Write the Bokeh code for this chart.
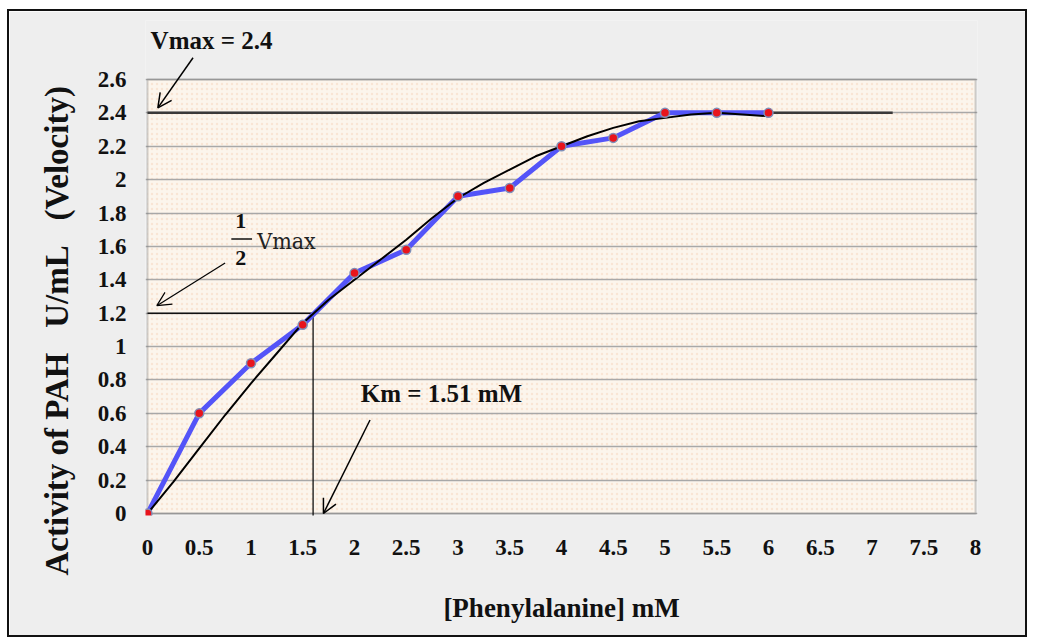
from bokeh.plotting import figure
from bokeh.models import (FixedTicker, Arrow, OpenHead, Label, BoxAnnotation,
                          ColumnDataSource, Title)
from bokeh.embed import file_html
from bokeh.resources import INLINE

# ---- data ----
conc = [0, 0.5, 1, 1.5, 2, 2.5, 3, 3.5, 4, 4.5, 5, 5.5, 6]
activity = [0, 0.60, 0.90, 1.13, 1.44, 1.58, 1.90, 1.95, 2.20, 2.25, 2.40, 2.40, 2.40]

fit_x = [0, 0.25, 0.5, 0.75, 1, 1.25, 1.5, 1.75, 2, 2.25, 2.5, 2.75, 3, 3.25,
         3.5, 3.75, 4, 4.25, 4.5, 4.75, 5, 5.25, 5.5, 5.75, 6]
fit_y = [0, 0.19, 0.39, 0.59, 0.78, 0.96, 1.14, 1.28, 1.40, 1.52, 1.64, 1.77, 1.89, 1.98,
         2.06, 2.14, 2.20, 2.26, 2.31, 2.35, 2.37, 2.39, 2.40, 2.39, 2.38]

x_ticks = [0, 0.5, 1, 1.5, 2, 2.5, 3, 3.5, 4, 4.5, 5, 5.5, 6, 6.5, 7, 7.5, 8]
x_tick_labels = ["0", "0.5", "1", "1.5", "2", "2.5", "3", "3.5", "4", "4.5", "5", "5.5",
                 "6", "6.5", "7", "7.5", "8"]
y_ticks = [0, 0.2, 0.4, 0.6, 0.8, 1.0, 1.2, 1.4, 1.6, 1.8, 2.0, 2.2, 2.4, 2.6]
y_tick_labels = ["0", "0.2", "0.4", "0.6", "0.8", "1", "1.2", "1.4", "1.6", "1.8", "2",
                 "2.2", "2.4", "2.6"]

x_min, x_max = 0, 8
y_min, y_max = 0, 2.6
vmax = 2.4
half_vmax = 1.2
km_line_x = 1.6
vmax_line_end = 7.2

SERIF = "Liberation Serif"
NB = "\u00a0"

# the frame is a little larger than the plot area (and extends above 2.6 so that the
# top annotation can be drawn there); the visible plot area is drawn as a box
p = figure(width=1020, height=628, x_range=(-0.0193, 8.0193), y_range=(-0.012, 2.9533),
           output_backend="svg", toolbar_location=None,
           min_border_left=136, min_border_right=52, min_border_top=9,
           min_border_bottom=124)
p.styles = {"border": "2px solid #111", "margin-left": "7px", "margin-top": "9px"}

p.background_fill_color = "#eeeeee"
p.border_fill_color = "#eeeeee"
p.outline_line_color = None

# plot area
p.add_layout(BoxAnnotation(left=x_min, right=x_max, bottom=y_min, top=y_max,
                           fill_color="#fcf5ec", fill_alpha=1, line_alpha=0,
                           hatch_pattern="dot", hatch_color="#f3c8a6", hatch_scale=5,
                           hatch_alpha=0.35, level="image"))

p.xgrid.visible = False
p.ygrid.ticker = FixedTicker(ticks=y_ticks)
p.ygrid.grid_line_color = "#a8a8a8"
p.ygrid.grid_line_width = 1.3

p.add_layout(BoxAnnotation(left=x_min, right=x_max, bottom=y_min, top=y_max,
                           fill_alpha=0, line_color="#707070", line_width=2,
                           level="underlay"))

for ax in (p.xaxis[0], p.yaxis[0]):
    ax.axis_line_color = None
    ax.major_tick_line_color = None
    ax.minor_tick_line_color = None
    ax.major_tick_out = 0
    ax.major_tick_in = 0
    ax.minor_tick_out = 0
    ax.minor_tick_in = 0
    ax.major_label_text_font = SERIF
    ax.major_label_text_font_style = "bold"
    ax.major_label_text_font_size = "23px"
    ax.major_label_text_color = "#111111"
    ax.axis_label_text_font = SERIF
    ax.axis_label_text_font_style = "bold"
    ax.axis_label_text_color = "#111111"

p.xaxis.ticker = FixedTicker(ticks=x_ticks)
p.xaxis.major_label_overrides = {t: l for t, l in zip(x_ticks, x_tick_labels)}
p.xaxis.major_label_standoff = 24
p.xaxis.axis_label = "[Phenylalanine] mM"
p.xaxis.axis_label_text_font_size = "27px"
p.xaxis.axis_label_standoff = 35

p.yaxis.ticker = FixedTicker(ticks=y_ticks)
p.yaxis.major_label_overrides = {t: l for t, l in zip(y_ticks, y_tick_labels)}
p.yaxis.major_label_standoff = 19

# y axis title, placed along the plot area rather than along the (taller) frame
p.add_layout(Title(text="Activity of PAH" + NB * 3 + "U/mL" + NB * 3 + "(Velocity)",
                   align="left", offset=-60, text_font=SERIF, text_font_style="bold",
                   text_font_size="33px", text_color="#111111", standoff=40), "left")

# Vmax and half-Vmax guide lines
p.line([0, vmax_line_end], [vmax, vmax], line_color="#3a3a3a", line_width=2.5)
p.line([0, km_line_x], [half_vmax, half_vmax], line_color="#111111", line_width=1.5)
p.line([km_line_x, km_line_x], [-0.03, half_vmax], line_color="#111111", line_width=1.3)

# data
src = ColumnDataSource(dict(x=conc, y=activity))
p.line("x", "y", source=src, line_color="#5454f8", line_width=5, line_join="round")
p.line(fit_x, fit_y, line_color="#000000", line_width=2)
p.scatter("x", "y", source=src, size=9, fill_color="#e8141c", line_color="#7f8fb8",
          line_width=1.5)

# annotations
lab = dict(text_font=SERIF, text_color="#111111")
p.add_layout(Label(x=0.03, y=2.833, text="Vmax = 2.4", text_font_style="bold",
                   text_font_size="25px", text_baseline="middle", **lab))
p.add_layout(Arrow(end=OpenHead(size=14, line_width=1.5), x_start=0.44, y_start=2.73,
                   x_end=0.1, y_end=2.43, line_width=1.5))

p.add_layout(Label(x=0.9, y=1.75, text="1", text_font_style="bold", text_font_size="22px",
                   text_align="center", text_baseline="middle", **lab))
p.add_layout(Label(x=0.9, y=1.53, text="2", text_font_style="bold", text_font_size="22px",
                   text_align="center", text_baseline="middle", **lab))
p.line([0.81, 1.01], [1.645, 1.645], line_color="#111111", line_width=1.5)
p.add_layout(Label(x=1.06, y=1.63, text="Vmax", text_font_size="23px",
                   text_baseline="middle", text_font="DejaVu Serif Condensed",
                   text_color="#222222"))
p.add_layout(Arrow(end=OpenHead(size=14, line_width=1.2), x_start=0.75, y_start=1.50,
                   x_end=0.09, y_end=1.245, line_width=1.2))

p.add_layout(Label(x=2.06, y=0.72, text="Km = 1.51 mM", text_font_style="bold",
                   text_font_size="25px", text_baseline="middle", **lab))
p.add_layout(Arrow(end=OpenHead(size=14, line_width=1.5), x_start=2.15, y_start=0.56,
                   x_end=1.7, y_end=0.0, line_width=1.5))

open("out.html", "w").write(file_html(p, INLINE))
